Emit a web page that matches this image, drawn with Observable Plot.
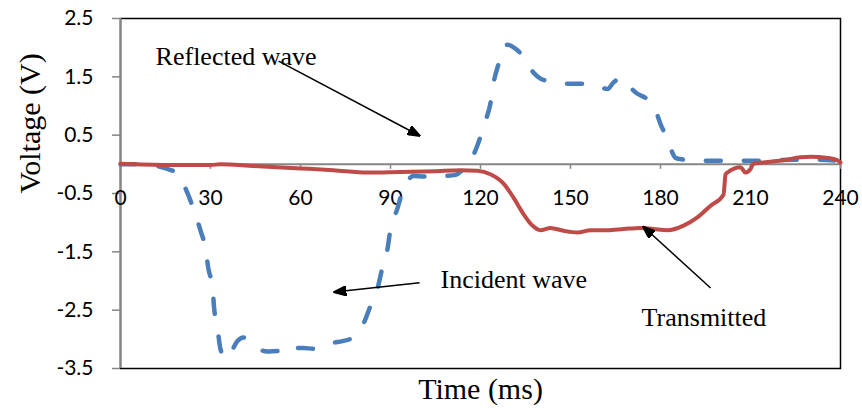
<!DOCTYPE html>
<html><head><meta charset="utf-8">
<script src="https://cdn.jsdelivr.net/npm/d3@7"></script>
<script src="https://cdn.jsdelivr.net/npm/@observablehq/plot@0.6"></script>
<style>body{margin:0;background:#fff} svg{display:block}</style>
</head><body><div id="chart"></div>
<script>
// Tick values
const xTicks = [0, 30, 60, 90, 120, 150, 180, 210, 240];
const yTicks = [2.5, 1.5, 0.5, -0.5, -1.5, -2.5, -3.5];

// Incident + reflected wave (blue dashed): [time ms, voltage V]
const incidentReflected = [
  [0,0],[6.7,0],[12.3,-0.03],[15.7,-0.08],[19,-0.16],[22.3,-0.49],[24.3,-0.76],[26.7,-1.14],
  [28.3,-1.43],[29.3,-1.79],[30.7,-2.12],[31.2,-2.46],[32.3,-2.80],[33.3,-3.16],[35,-3.33],
  [36.7,-3.23],[39,-3.03],[41,-2.97],[43.3,-3.03],[46,-3.16],[49,-3.21],[52.3,-3.20],[55,-3.25],
  [57.7,-3.15],[61,-3.15],[64.3,-3.16],[67.3,-3.11],[70.7,-3.06],[74,-3.03],[76.7,-2.99],
  [79,-2.87],[81,-2.73],[83.3,-2.43],[85.7,-2.12],[87.3,-1.77],[89,-1.45],[90,-1.11],
  [92.3,-0.76],[94,-0.45],[95.7,-0.28],[97.7,-0.20],[101.3,-0.21],[105,-0.21],[108.3,-0.20],
  [111.7,-0.18],[114.3,-0.08],[116.7,0.06],[119.3,0.37],[121.7,0.75],[123.3,1.04],[124.3,1.38],
  [126,1.72],[127.3,1.98],[129,2.05],[131.7,1.98],[134,1.86],[136,1.69],[137.7,1.57],[140,1.47],
  [142.3,1.43],[146,1.40],[150,1.38],[153.3,1.38],[155.7,1.38],[159,1.35],[162.3,1.29],
  [164.3,1.40],[166.7,1.48],[169.3,1.35],[172.3,1.21],[175,1.14],[177.3,1.04],[178.7,0.88],
  [180,0.69],[181.3,0.54],[182.3,0.40],[183.7,0.23],[185,0.11],[187.7,0.08],[190.7,0.06],
  [197.7,0.06],[211,0.06],[224.3,0.08],[231,0.08],[240,0.06]
];

// Transmitted wave (red solid): [time ms, voltage V]
const transmitted = [
  [0,0.01],[15.7,-0.01],[30,-0.01],[33.3,0],[44.3,-0.03],[60,-0.07],[71,-0.10],[82.3,-0.14],
  [93.3,-0.13],[104.3,-0.12],[113.3,-0.10],[119,-0.11],[123.3,-0.17],[127.7,-0.33],[131,-0.57],
  [134.3,-0.85],[137.3,-1.05],[140,-1.13],[143.3,-1.09],[147.7,-1.14],[152.3,-1.17],[156.7,-1.13],
  [162.3,-1.13],[167.7,-1.11],[173.3,-1.09],[177.7,-1.11],[182.3,-1.13],[187.7,-1.05],[192.3,-0.91],
  [196.7,-0.71],[201,-0.52],[201.7,-0.17],[202.3,-0.14],[206.7,-0.05],[208.3,-0.14],[210,-0.08],
  [211,0.01],[215.7,0.04],[221,0.07],[226.7,0.12],[230,0.13],[235.7,0.11],[239,0.07],[240,0.03]
];

// Annotations
const annotationText = ["Reflected wave", "Incident wave", "Transmitted"];
const annotationT = [11.7, 106.7, 173.7];
const annotationV = [1.84, -1.98, -2.63];
const arrowFrom = [[52.7, 1.77], [99.7, -2.03], [196.7, -2.12]];
const arrowTo = [[99.7, 0.49], [71.3, -2.19], [174.3, -1.07]];

const W = 862, H = 408, mL = 120, mR = 22, mT = 18, mB = 40;
const xDomain = [0, 240], yDomain = [-3.5, 2.5];
const zeroDy = -(H - mT - mB) * (0 - yDomain[0]) / (yDomain[1] - yDomain[0]);

const labels = annotationText.map((s, i) => ({s, t: annotationT[i], v: annotationV[i]}));
const arrows = arrowFrom.map((f, i) => ({x1: f[0], y1: f[1], x2: arrowTo[i][0], y2: arrowTo[i][1]}));

function filledHead(color) {
  const ns = "http://www.w3.org/2000/svg";
  const m = document.createElementNS(ns, "marker");
  m.setAttribute("viewBox", "0 -5 13 10");
  m.setAttribute("markerWidth", 13);
  m.setAttribute("markerHeight", 10);
  m.setAttribute("refX", 12);
  m.setAttribute("refY", 0);
  m.setAttribute("orient", "auto");
  m.setAttribute("markerUnits", "userSpaceOnUse");
  const p = document.createElementNS(ns, "path");
  p.setAttribute("d", "M0,-5L13,0L0,5Z");
  p.setAttribute("fill", "black");
  m.appendChild(p);
  return m;
}

const serif = "'Liberation Serif', 'Times New Roman', serif";
const sans = "Lato, 'Open Sans', sans-serif";

const chart = Plot.plot({
  width: W, height: H,
  marginLeft: mL, marginRight: mR, marginTop: mT, marginBottom: mB,
  style: {background: "white", color: "black", fontFamily: sans, fontSize: "21px", overflow: "visible"},
  x: {domain: xDomain},
  y: {domain: yDomain},
  marks: [
    Plot.frame({stroke: "black", strokeWidth: 1.5}),
    Plot.ruleY([0], {stroke: "#868686", strokeWidth: 2}),
    Plot.ruleX([0], {stroke: "#868686", strokeWidth: 2}),
    Plot.axisY({ticks: yTicks, tickSize: 8, tickPadding: 19, stroke: "#868686", strokeWidth: 1.5,
      tickFormat: d => d.toFixed(1), label: null, fontFamily: sans, fontSize: 21}),
    Plot.axisX({ticks: xTicks, tickSize: 5, tickPadding: 21, dy: zeroDy, stroke: "#868686", strokeWidth: 1.5,
      tickFormat: d => String(d), label: null, fontFamily: sans, fontSize: 21}),
    Plot.line(incidentReflected, {x: d => d[0], y: d => d[1], stroke: "#4A7EBB", strokeWidth: 4.5,
      strokeDasharray: "15,23", strokeLinecap: "round", curve: "monotone-x"}),
    Plot.line(transmitted, {x: d => d[0], y: d => d[1], stroke: "#BE4B48", strokeWidth: 4,
      strokeLinejoin: "round", curve: "monotone-x"}),
    Plot.text(labels, {x: "t", y: "v", text: "s", textAnchor: "start", lineAnchor: "middle",
      fontFamily: serif, fontSize: 26, fill: "black"}),
    Plot.link(arrows, {x1: "x1", y1: "y1", x2: "x2", y2: "y2", stroke: "black", strokeWidth: 1.5,
      markerEnd: filledHead}),
    Plot.text(["Time (ms)"], {text: d => d, frameAnchor: "bottom", dy: 21, lineAnchor: "middle",
      fontFamily: serif, fontSize: 30, fill: "black"}),
    Plot.text(["Voltage (V)"], {text: d => d, frameAnchor: "left", dx: -90, rotate: -90, lineAnchor: "middle",
      fontFamily: serif, fontSize: 30, fill: "black"})
  ]
});
document.getElementById("chart").appendChild(chart);
</script>
</body></html>
